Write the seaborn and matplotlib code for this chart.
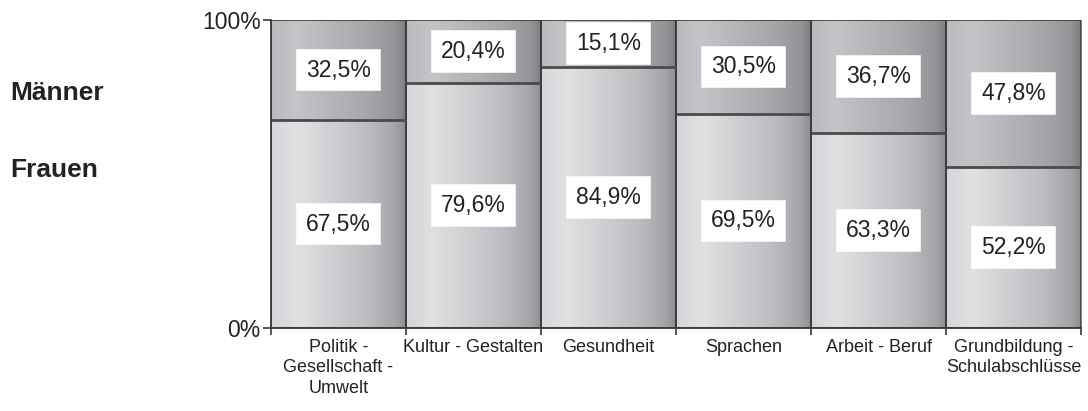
import matplotlib
matplotlib.use("Agg")
import matplotlib.pyplot as plt
import numpy as np
import pandas as pd
import seaborn as sns
from matplotlib.colors import LinearSegmentedColormap

categories = [
    "Politik -\nGesellschaft -\nUmwelt",
    "Kultur - Gestalten",
    "Gesundheit",
    "Sprachen",
    "Arbeit - Beruf",
    "Grundbildung -\nSchulabschlüsse",
]
frauen = [67.5, 79.6, 84.9, 69.5, 63.3, 52.2]
maenner = [32.5, 20.4, 15.1, 30.5, 36.7, 47.8]
y_ticks = [0, 100]
y_tick_labels = ["0%", "100%"]

sns.set_theme(style="white")
plt.rcParams["font.family"] = ["Liberation Sans", "DejaVu Sans"]

df = pd.DataFrame({"kategorie": categories, "frauen": frauen, "maenner": maenner})
df["gesamt"] = df["frauen"] + df["maenner"]

fig = plt.figure(figsize=(10.88, 4.11), dpi=100)
ax = fig.add_axes([0.2491, 0.2019, 0.7445, 0.7494])

edge = "#3a3a3a"
sns.barplot(data=df, x="kategorie", y="gesamt", color="#a0a0a0", width=1.0,
            edgecolor=edge, linewidth=1.2, ax=ax, zorder=3)
sns.barplot(data=df, x="kategorie", y="frauen", color="#d0d0d0", width=1.0,
            edgecolor="none", linewidth=0, ax=ax, zorder=3)

cmap_top = LinearSegmentedColormap.from_list(
    "top", [(0, "#b8b9bc"), (0.18, "#c4c5c8"), (0.72, "#a5a6aa"), (0.92, "#939498"), (1.0, "#7c7d81")])
cmap_bot = LinearSegmentedColormap.from_list(
    "bot", [(0, "#d5d6d9"), (0.2, "#e0e1e3"), (0.72, "#bcbdc0"), (0.92, "#a3a4a8"), (1.0, "#8b8c90")])
grad = np.linspace(0, 1, 256).reshape(1, -1)

n = len(categories)
for i, patch in enumerate(ax.patches):
    patch.set_facecolor("none")
    x0 = patch.get_x()
    w = patch.get_width()
    h = patch.get_height()
    cmap = cmap_top if i < n else cmap_bot
    ax.imshow(grad, cmap=cmap, extent=[x0, x0 + w, 0, h], aspect="auto",
              zorder=1 if i < n else 2, interpolation="bicubic")

# trennlinie zwischen frauen und maenner
xs = np.arange(n)
ax.hlines(frauen, xs - 0.5, xs + 0.5, color="#4a4a4a", linewidth=2.0, zorder=3.5)

for i in range(n):
    for yv, val in [(frauen[i] / 2, frauen[i]), (frauen[i] + maenner[i] / 2, maenner[i])]:
        ax.text(i, yv, f"{val:.1f}%".replace(".", ","), ha="center", va="center",
                fontsize=16.5, color="#222222", zorder=5,
                bbox=dict(boxstyle="square,pad=0.3", facecolor="white", edgecolor="white",
                          linewidth=4))

ax.set_xlim(-0.5, n - 0.5)
ax.set_ylim(0, 100)
ax.set_xlabel("")
ax.set_ylabel("")

ax.set_xticks(np.arange(-0.5, n, 1.0))
ax.set_xticklabels([])
ax.set_xticks(xs, minor=True)
ax.set_xticklabels(categories, minor=True, fontsize=13, color="#222222", linespacing=1.25)
ax.tick_params(axis="x", which="major", bottom=True, length=5, width=1.2, color=edge, direction="out")
ax.tick_params(axis="x", which="minor", bottom=True, length=0, pad=8)

ax.set_yticks(y_ticks)
ax.set_yticklabels(y_tick_labels, fontsize=16.5, color="#222222")
ax.tick_params(axis="y", left=True, length=6, width=1.2, color=edge, pad=1.5)

for side in ["top", "right"]:
    ax.spines[side].set_visible(False)
for side in ["left", "bottom"]:
    ax.spines[side].set_color(edge)
    ax.spines[side].set_linewidth(1.3)
    ax.spines[side].set_zorder(4)

fig.text(10 / 1088, 1 - 100 / 411, "Männer", fontsize=19, fontweight="bold",
         color="#222222", ha="left", va="baseline")
fig.text(10 / 1088, 1 - 177 / 411, "Frauen", fontsize=19, fontweight="bold",
         color="#222222", ha="left", va="baseline")

fig.savefig("out.png", dpi=100)
